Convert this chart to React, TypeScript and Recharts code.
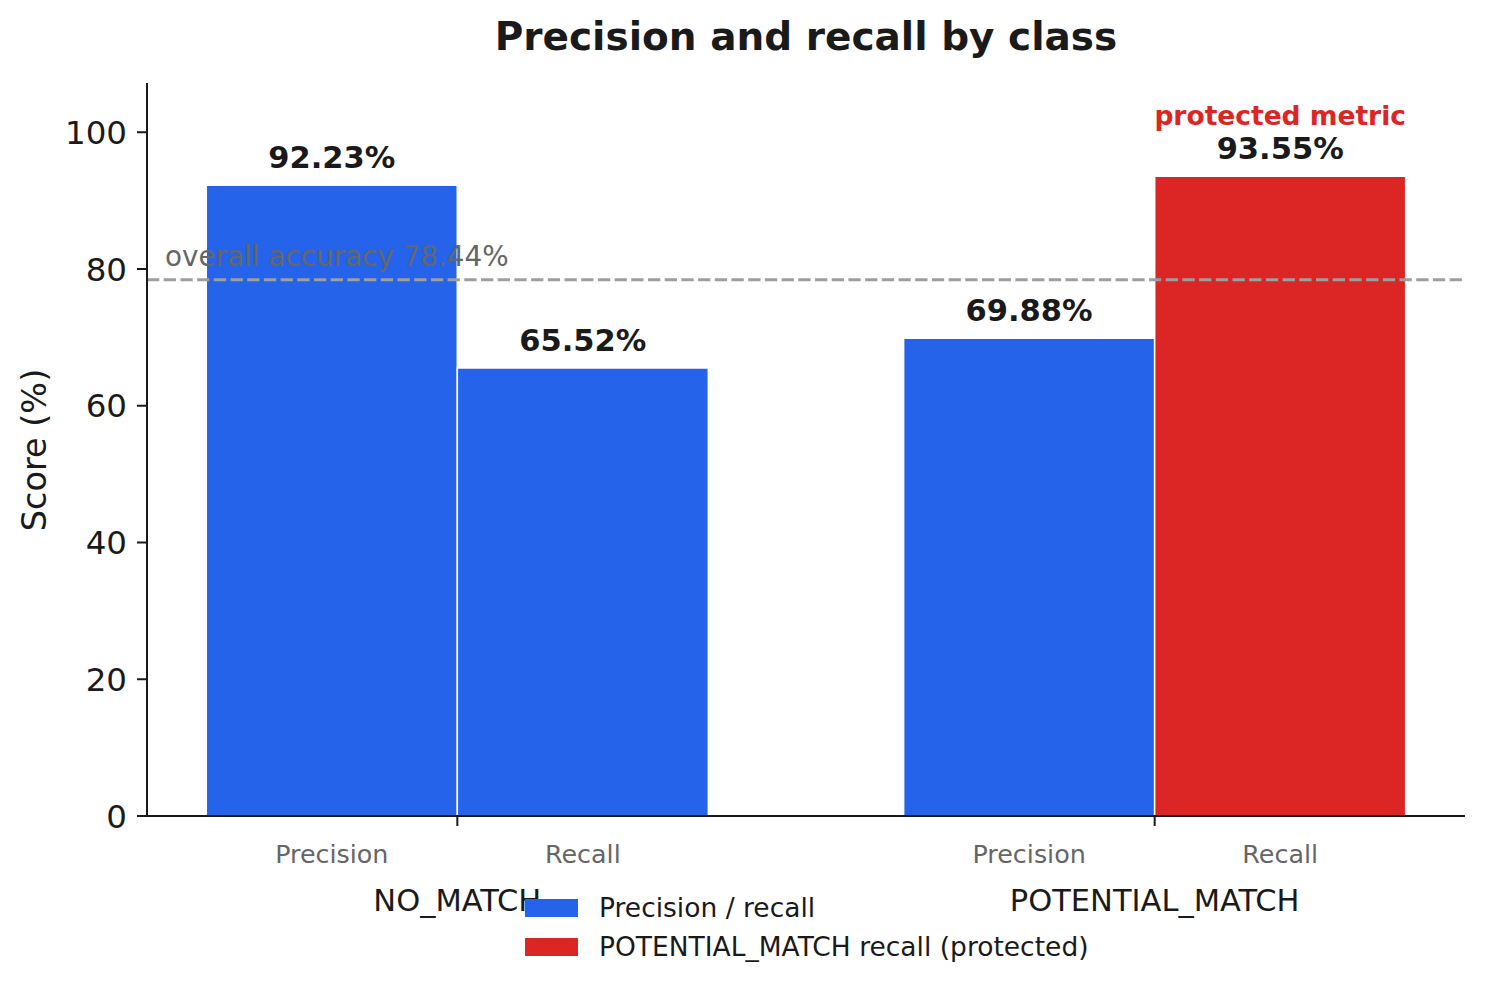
import React from 'react';
import { BarChart, Bar, XAxis, YAxis, Cell, LabelList, ReferenceLine, Legend } from 'recharts';

// ---- data ----
const classNames = ['NO_MATCH', 'POTENTIAL_MATCH'];
const metricNames = ['Precision', 'Recall'];
const precisionValues = [92.23, 69.88];
const recallValues = [65.52, 93.55];
const overallAccuracy = 78.44;
const yTicks = [0, 20, 40, 60, 80, 100];
const legendLabels = ['Precision / recall', 'POTENTIAL_MATCH recall (protected)'];
const protectedLabel = 'protected metric';
const protectedClass = 'POTENTIAL_MATCH';

// ---- styling ----
const BLUE = '#2563eb';
const RED = '#dc2626';
const DARK = '#1a1a1a';
const FONT = '"DejaVu Sans", sans-serif';
const BAR_OFFSET = 0.18;
const W = 1485;
const H = 992;

const data = classNames.flatMap((cls, i) => [
  { x: i - BAR_OFFSET, value: precisionValues[i], metric: metricNames[0], cls, isProtected: false },
  { x: i + BAR_OFFSET, value: recallValues[i], metric: metricNames[1], cls, isProtected: cls === protectedClass },
]);

const xTicks = [...data.map((d) => d.x), ...classNames.map((_, i) => i)].sort((a, b) => a - b);

const XTick = (props: any) => {
  const { x, y, payload } = props;
  const v = payload.value;
  const ci = classNames.findIndex((_, i) => Math.abs(v - i) < 1e-6);
  if (ci >= 0) {
    return (
      <g>
        <line x1={x} x2={x} y1={y} y2={y + 10} stroke={DARK} strokeWidth={2} />
        <text x={x} y={y + 95} textAnchor="middle" fontSize={30.5} fill={DARK} fontFamily={FONT}>
          {classNames[ci]}
        </text>
      </g>
    );
  }
  const d = data.find((e) => Math.abs(e.x - v) < 1e-6);
  return (
    <text x={x} y={y + 47} textAnchor="middle" fontSize={25.4} fill="#666666" fontFamily={FONT}>
      {d ? d.metric : ''}
    </text>
  );
};

const ValueLabel = (props: any) => {
  const { x, y, width, value, index } = props;
  const cx = Number(x) + Number(width) / 2;
  const entry = (typeof index === 'number' && data[index]) || data.find((d) => d.value === value);
  return (
    <g>
      {entry && entry.isProtected && (
        <text x={cx} y={Number(y) - 51} textAnchor="middle" fontSize={26.5} fontWeight="bold" fill={RED} fontFamily={FONT}>
          {protectedLabel}
        </text>
      )}
      <text x={cx} y={Number(y) - 17} textAnchor="middle" fontSize={30.5} fontWeight="bold" fill={DARK} fontFamily={FONT}>
        {Number(value).toFixed(2)}%
      </text>
    </g>
  );
};

const AccLabel = (props: any) => {
  const vb = props.viewBox || {};
  return (
    <text x={Number(vb.x) + 18} y={Number(vb.y) - 14} fontSize={27.8} fill="#666666" fontFamily={FONT}>
      overall accuracy {overallAccuracy.toFixed(2)}%
    </text>
  );
};

const YLabel = () => (
  <text
    x={46}
    y={450}
    transform="rotate(-90, 46, 450)"
    textAnchor="middle"
    fontSize={33.5}
    fill={DARK}
    fontFamily={FONT}
  >
    Score (%)
  </text>
);

const legendColors = [BLUE, RED];

const LegendContent = () => (
  <div style={{ fontFamily: FONT }}>
    {legendLabels.map((l, i) => (
      <div key={l} style={{ display: 'flex', alignItems: 'center', height: 39, whiteSpace: 'nowrap' }}>
        <span style={{ display: 'inline-block', width: 53, height: 18, background: legendColors[i], marginRight: 21 }} />
        <span style={{ fontSize: 26.5, color: DARK }}>{l}</span>
      </div>
    ))}
  </div>
);

export default function App() {
  return (
    <div style={{ position: 'relative', width: W, height: H, background: '#fff' }}>
      <style>{`body{margin:0;background:#fff;}`}</style>
      <div
        style={{
          position: 'absolute',
          left: 147,
          top: 0,
          width: 1318,
          textAlign: 'center',
          fontFamily: FONT,
          fontWeight: 'bold',
          fontSize: 39,
          lineHeight: '74px',
          color: DARK,
          zIndex: 2,
        }}
      >
        Precision and recall by class
      </div>
      <BarChart width={W} height={H} data={data} margin={{ top: 83, right: 20, left: 0, bottom: 0 }}>
        <XAxis
          dataKey="x"
          type="number"
          domain={[-0.445, 1.445]}
          allowDataOverflow
          ticks={xTicks}
          interval={0}
          height={176}
          tickLine={false}
          tickSize={0}
          tickMargin={0}
          axisLine={{ stroke: DARK, strokeWidth: 2 }}
          tick={<XTick />}
        />
        <YAxis
          type="number"
          domain={[0, 107.2]}
          allowDataOverflow
          ticks={yTicks}
          interval={0}
          width={147}
          tickSize={10}
          tickMargin={10}
          tickLine={{ stroke: DARK, strokeWidth: 2 }}
          axisLine={{ stroke: DARK, strokeWidth: 2 }}
          tick={{ fontSize: 32.5, fill: DARK, fontFamily: FONT }}
          label={<YLabel />}
        />
        <Bar dataKey="value" barSize={251} isAnimationActive={false} stroke="#ffffff" strokeWidth={1.5}>
          {data.map((d) => (
            <Cell key={`${d.cls}-${d.metric}`} fill={d.isProtected ? RED : BLUE} />
          ))}
          <LabelList dataKey="value" content={<ValueLabel />} />
        </Bar>
        <ReferenceLine
          y={overallAccuracy}
          stroke="#9e9e9e"
          strokeWidth={3}
          strokeDasharray="12.3 4.4"
          label={<AccLabel />}
        />
        <Legend
          layout="vertical"
          verticalAlign="middle"
          align="center"
          wrapperStyle={{ top: 888, left: 525, width: 700, height: 80 }}
          content={<LegendContent />}
        />
      </BarChart>
    </div>
  );
}
